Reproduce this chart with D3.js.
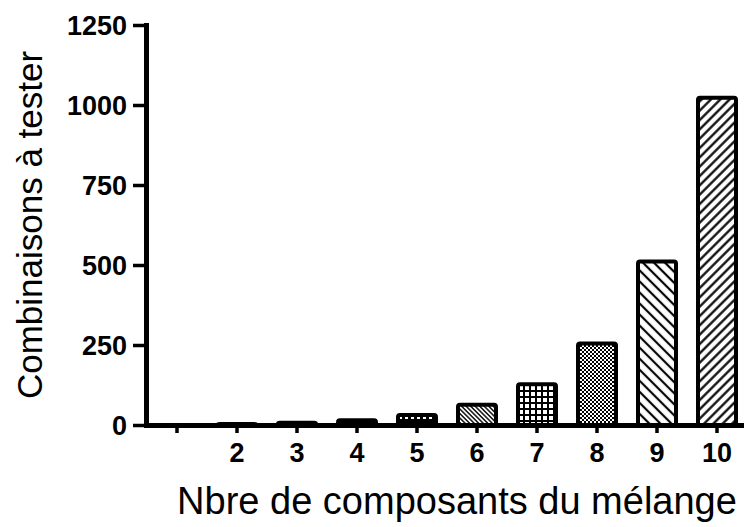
<!DOCTYPE html>
<html>
<head>
<meta charset="utf-8">
<script src="https://cdn.jsdelivr.net/npm/d3@7"></script>
<style>
  body { margin: 0; background: #fff; }
  svg { display: block; font-family: Arial, 'Liberation Sans', sans-serif; }
</style>
</head>
<body>
<svg width="744" height="527"></svg>
<script>
// data
const categories = ['1', '2', '3', '4', '5', '6', '7', '8', '9', '10'];
const tickLabels = ['', '2', '3', '4', '5', '6', '7', '8', '9', '10'];
const values = [null, 3, 7, 15, 31, 63, 127, 255, 511, 1023];
const fills = ['', 'solid', 'solid', 'solid', 'dash', 'hatchFine', 'grid', 'check', 'hatchBack', 'hatchFwd'];
const yTicks = [0, 250, 500, 750, 1000, 1250];

const svg = d3.select('svg');
const width = +svg.attr('width');
const height = +svg.attr('height');

const margin = { top: 25, left: 146 };
const innerHeight = 400;

const defs = svg.append('defs');

// line pattern helper
const linePattern = (id, period, angle, sw) => {
    const p = defs.append('pattern')
        .attr('id', id)
        .attr('patternUnits', 'userSpaceOnUse')
        .attr('width', period).attr('height', period)
        .attr('patternTransform', `rotate(${angle})`);
    p.append('rect').attr('width', period).attr('height', period).attr('fill', '#fff');
    p.append('line')
        .attr('x1', period / 2).attr('x2', period / 2)
        .attr('y1', 0).attr('y2', period)
        .attr('stroke', '#000').attr('stroke-width', sw);
};
linePattern('hatchFine', 3.2, -45, 1.4);
linePattern('hatchBack', 7.8, -45, 2.2);
linePattern('hatchFwd', 6.6, 45, 2.2);

const grid = defs.append('pattern')
    .attr('id', 'grid').attr('patternUnits', 'userSpaceOnUse')
    .attr('width', 6).attr('height', 6);
grid.append('rect').attr('width', 6).attr('height', 6).attr('fill', '#000');
grid.append('rect').attr('x', 1).attr('y', 1).attr('width', 4).attr('height', 4).attr('fill', '#fff');

const check = defs.append('pattern')
    .attr('id', 'check').attr('patternUnits', 'userSpaceOnUse')
    .attr('width', 4).attr('height', 4);
check.append('rect').attr('width', 4).attr('height', 4).attr('fill', '#000');
check.append('rect').attr('width', 2).attr('height', 2).attr('fill', '#fff');
check.append('rect').attr('x', 2).attr('y', 2).attr('width', 2).attr('height', 2).attr('fill', '#fff');

const dash = defs.append('pattern')
    .attr('id', 'dash').attr('patternUnits', 'userSpaceOnUse')
    .attr('width', 6).attr('height', 6);
dash.append('rect').attr('width', 6).attr('height', 6).attr('fill', '#000');
dash.append('rect').attr('x', 1).attr('y', 2).attr('width', 3).attr('height', 2).attr('fill', '#fff');

const fillOf = f => f === 'solid' ? '#000' : `url(#${f})`;

const xScale = d3.scaleBand()
    .domain(categories)
    .range([0, 602])
    .paddingInner(0.3667)
    .paddingOuter(0.2);

const yScale = d3.scaleLinear()
    .domain([0, 1250])
    .range([innerHeight, 0]);

const g = svg.append('g')
    .attr('transform', `translate(${margin.left}, ${margin.top})`);

const data = categories.map((c, i) => ({ c, v: values[i], f: fills[i] }))
    .filter(d => d.v !== null);

g.selectAll('rect.bar').data(data)
    .enter().append('rect')
        .attr('class', 'bar')
        .attr('x', d => xScale(d.c))
        .attr('y', d => yScale(d.v))
        .attr('width', xScale.bandwidth())
        .attr('height', d => yScale(0) - yScale(d.v))
        .attr('rx', 2)
        .attr('fill', d => fillOf(d.f))
        .attr('stroke', '#000')
        .attr('stroke-width', 4);

// x axis
const xAxis = d3.axisBottom(xScale)
    .tickFormat((d, i) => tickLabels[i])
    .tickSize(8)
    .tickSizeOuter(0)
    .tickPadding(10);

const xAxisG = g.append('g').call(xAxis)
    .attr('transform', `translate(0, ${innerHeight})`)
    .attr('font-family', null)
    .attr('font-size', 27)
    .attr('font-weight', 'bold');
xAxisG.select('.domain').attr('stroke-width', 5).attr('stroke-linecap', 'square');
xAxisG.selectAll('.tick line').attr('stroke-width', 3.5);
xAxisG.selectAll('.tick text').filter((d, i) => tickLabels[i] === '').remove();

// y axis
const yAxis = d3.axisLeft(yScale)
    .tickValues(yTicks)
    .tickFormat(d3.format('d'))
    .tickSize(13)
    .tickSizeOuter(0)
    .tickPadding(6);

const yAxisG = g.append('g').call(yAxis)
    .attr('font-family', null)
    .attr('font-size', 27)
    .attr('font-weight', 'bold');
yAxisG.select('.domain').attr('stroke-width', 5).attr('stroke-linecap', 'square');
yAxisG.selectAll('.tick line').attr('stroke-width', 3.5);
yAxisG.selectAll('.tick text').attr('dy', '0.36em');

// labels
svg.append('text')
    .attr('text-anchor', 'middle')
    .attr('transform', `translate(42, 225) rotate(-90)`)
    .attr('font-size', 35)
    .text('Combinaisons à tester');

svg.append('text')
    .attr('text-anchor', 'middle')
    .attr('x', 457)
    .attr('y', 514)
    .attr('font-size', 38)
    .text('Nbre de composants du mélange');
</script>
</body>
</html>
